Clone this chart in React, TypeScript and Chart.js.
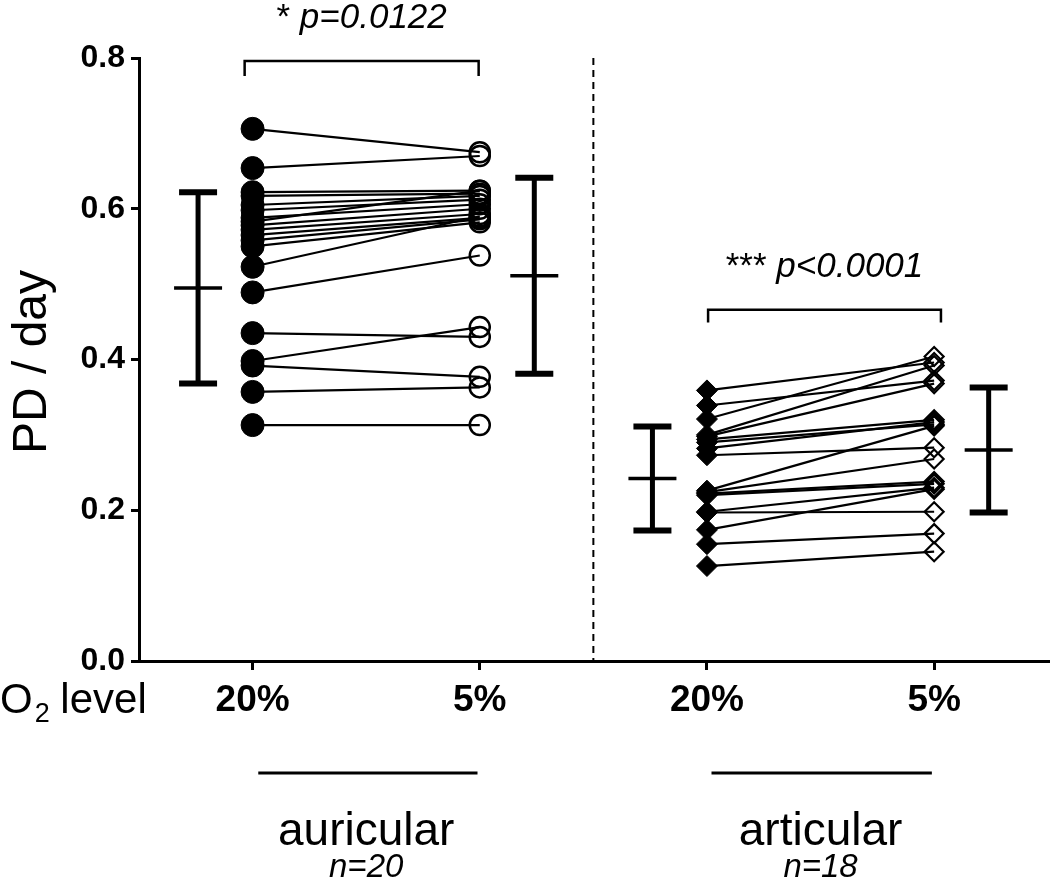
import React, { useEffect, useRef } from 'react';
import { Chart, registerables } from 'chart.js';

Chart.register(...registerables);

// ---------- data ----------
const xCategories = ['20%', '5%', '20%', '5%'];
const xPositions = [1, 2, 3, 4];
const yTicks = [0, 0.2, 0.4, 0.6, 0.8];

const auricular20 = [0.706, 0.654, 0.622, 0.617, 0.605, 0.598, 0.588, 0.583, 0.578, 0.572, 0.565, 0.558, 0.55, 0.523, 0.489, 0.435, 0.398, 0.392, 0.357, 0.313];
const auricular5 = [0.675, 0.67, 0.624, 0.62, 0.617, 0.612, 0.606, 0.624, 0.6, 0.593, 0.588, 0.586, 0.582, 0.59, 0.538, 0.43, 0.443, 0.377, 0.363, 0.313];

const articular20 = [0.359, 0.339, 0.321, 0.3, 0.298, 0.294, 0.29, 0.282, 0.273, 0.226, 0.224, 0.222, 0.22, 0.198, 0.197, 0.174, 0.155, 0.126];
const articular5 = [0.396, 0.372, 0.404, 0.392, 0.368, 0.32, 0.314, 0.317, 0.283, 0.312, 0.268, 0.238, 0.235, 0.23, 0.198, 0.228, 0.169, 0.145];

const summaryX = [0.76, 2.24, 2.76, 4.24];
const summaryMean = [0.495, 0.511, 0.242, 0.28];
const summarySD = [0.127, 0.13, 0.069, 0.083];

const separatorX = 2.5;
const bracketX = [[0.965, 1.995], [3.005, 4.03]];
const bracketY = [[0.796, 0.776], [0.466, 0.449]];
const bracketStars = ['*', '***'];
const bracketP = ['p=0.0122', 'p<0.0001'];

const groupCenters = [1.5, 3.5];
const groupLineX = [[1.025, 1.99], [3.02, 3.99]];
const groupNames = ['auricular', 'articular'];
const groupN = ['n=20', 'n=18'];

const yTitle = 'PD / day';
const xRowTitle = ['O', '2', ' level'];

// ---------- chart ----------
const FONT = "'Liberation Sans', Arial, Helvetica, sans-serif";

const annotationPlugin = {
  id: 'annotations',
  afterDatasetsDraw(chart: any) {
    const { ctx, scales } = chart;
    const x = scales.x;
    const y = scales.y;
    ctx.save();
    ctx.strokeStyle = '#000';
    ctx.fillStyle = '#000';
    ctx.lineCap = 'butt';

    // dashed separator
    const sx = x.getPixelForValue(separatorX);
    ctx.lineWidth = 2;
    ctx.setLineDash([7, 5]);
    ctx.beginPath();
    ctx.moveTo(sx, y.getPixelForValue(0.8));
    ctx.lineTo(sx, y.getPixelForValue(0));
    ctx.stroke();
    ctx.setLineDash([]);

    // mean ± SD
    summaryX.forEach((xv, i) => {
      const px = x.getPixelForValue(xv);
      const pm = y.getPixelForValue(summaryMean[i]);
      const pt = y.getPixelForValue(summaryMean[i] + summarySD[i]);
      const pb = y.getPixelForValue(summaryMean[i] - summarySD[i]);
      ctx.lineWidth = 5;
      ctx.beginPath();
      ctx.moveTo(px, pt);
      ctx.lineTo(px, pb);
      ctx.stroke();
      ctx.lineWidth = 6;
      ctx.beginPath();
      ctx.moveTo(px - 19, pt);
      ctx.lineTo(px + 19, pt);
      ctx.moveTo(px - 19, pb);
      ctx.lineTo(px + 19, pb);
      ctx.stroke();
      ctx.lineWidth = 3.5;
      ctx.beginPath();
      ctx.moveTo(px - 24, pm);
      ctx.lineTo(px + 24, pm);
      ctx.stroke();
    });

    // significance brackets
    bracketX.forEach((bx, i) => {
      const x0 = x.getPixelForValue(bx[0]);
      const x1 = x.getPixelForValue(bx[1]);
      const yt = y.getPixelForValue(bracketY[i][0]);
      const yb = y.getPixelForValue(bracketY[i][1]);
      ctx.lineWidth = 2.5;
      ctx.beginPath();
      ctx.moveTo(x0, yb);
      ctx.lineTo(x0, yt);
      ctx.lineTo(x1, yt);
      ctx.lineTo(x1, yb);
      ctx.stroke();
      const starFont = `normal 35px ${FONT}`;
      const pFont = `italic 35px ${FONT}`;
      ctx.font = starFont;
      const starTxt = bracketStars[i] + ' ';
      const w1 = ctx.measureText(starTxt).width;
      ctx.font = pFont;
      const w2 = ctx.measureText(bracketP[i]).width;
      const cx = (x0 + x1) / 2;
      const left = cx - (w1 + w2) / 2;
      const base = yt - 33;
      ctx.textBaseline = 'alphabetic';
      ctx.textAlign = 'left';
      ctx.font = starFont;
      ctx.fillText(starTxt, left, base);
      ctx.font = pFont;
      ctx.fillText(bracketP[i], left + w1, base);
    });

    // group underlines and names
    groupLineX.forEach((gx, i) => {
      const x0 = x.getPixelForValue(gx[0]);
      const x1 = x.getPixelForValue(gx[1]);
      ctx.lineWidth = 3;
      ctx.beginPath();
      ctx.moveTo(x0, 773);
      ctx.lineTo(x1, 773);
      ctx.stroke();
      const cx = x.getPixelForValue(groupCenters[i]);
      ctx.textAlign = 'center';
      ctx.textBaseline = 'alphabetic';
      ctx.font = `normal 46px ${FONT}`;
      ctx.fillText(groupNames[i], cx, 845);
      ctx.font = `italic 33px ${FONT}`;
      ctx.fillText(groupN[i], cx, 877);
    });

    // O2 level row title
    ctx.textAlign = 'left';
    ctx.textBaseline = 'alphabetic';
    ctx.font = `normal 42px ${FONT}`;
    ctx.fillText(xRowTitle[0], 0, 713);
    const wO = ctx.measureText(xRowTitle[0]).width;
    ctx.font = `normal 27px ${FONT}`;
    ctx.fillText(xRowTitle[1], wO + 2, 722);
    const w2 = ctx.measureText(xRowTitle[1]).width;
    ctx.font = `normal 42px ${FONT}`;
    ctx.fillText(xRowTitle[2], wO + w2 + 1, 713);

    // y title
    ctx.save();
    ctx.translate(33, 362);
    ctx.rotate(-Math.PI / 2);
    ctx.textAlign = 'center';
    ctx.textBaseline = 'middle';
    ctx.font = `normal 48px ${FONT}`;
    ctx.fillText(yTitle, 0, 0);
    ctx.restore();

    ctx.restore();
  },
};

function buildDatasets() {
  const sets: any[] = [];
  auricular20.forEach((v, i) => {
    sets.push({
      data: [
        { x: xPositions[0], y: v },
        { x: xPositions[1], y: auricular5[i] },
      ],
      showLine: true,
      borderColor: '#000',
      borderWidth: 2.2,
      pointStyle: ['circle', 'circle'],
      pointRadius: [11.5, 10],
      pointBackgroundColor: ['#000', 'rgba(0,0,0,0)'],
      pointBorderColor: '#000',
      pointBorderWidth: [1, 2.5],
    });
  });
  articular20.forEach((v, i) => {
    sets.push({
      data: [
        { x: xPositions[2], y: v },
        { x: xPositions[3], y: articular5[i] },
      ],
      showLine: true,
      borderColor: '#000',
      borderWidth: 2.2,
      pointStyle: ['rectRot', 'rectRot'],
      pointRadius: [10.5, 9.5],
      pointBackgroundColor: ['#000', 'rgba(0,0,0,0)'],
      pointBorderColor: '#000',
      pointBorderWidth: [1, 2.2],
    });
  });
  return sets;
}

export default function App() {
  const canvasRef = useRef<HTMLCanvasElement | null>(null);

  useEffect(() => {
    if (!canvasRef.current) return;
    const chart = new Chart(canvasRef.current, {
      type: 'scatter',
      data: { datasets: buildDatasets() },
      options: {
        animation: false,
        responsive: false,
        events: [],
        layout: { autoPadding: false, padding: { top: 58, right: 0, left: 0, bottom: 0 } },
        plugins: {
          legend: { display: false },
          tooltip: { enabled: false },
        },
        scales: {
          x: {
            type: 'linear',
            min: 0.5,
            max: 4.51,
            afterBuildTicks: (scale: any) => {
              scale.ticks = xPositions.map((v) => ({ value: v }));
            },
            afterFit: (scale: any) => {
              scale.height = 220;
              scale.paddingLeft = 0;
              scale.paddingRight = 0;
            },
            ticks: {
              autoSkip: false,
              maxRotation: 0,
              color: '#000',
              padding: 9,
              font: { family: FONT, size: 37, weight: 'bold' },
              callback: (value: any) => {
                const idx = xPositions.indexOf(Number(value));
                return idx >= 0 ? xCategories[idx] : '';
              },
            },
            grid: {
              drawOnChartArea: false,
              drawTicks: true,
              tickLength: 9,
              lineWidth: 3,
              color: '#000',
            },
            border: { display: true, width: 3, color: '#000' },
          },
          y: {
            type: 'linear',
            min: 0,
            max: 0.8,
            afterBuildTicks: (scale: any) => {
              scale.ticks = yTicks.map((v) => ({ value: v }));
            },
            afterFit: (scale: any) => {
              scale.width = 139;
              scale.paddingLeft = 0;
              scale.paddingRight = 0;
            },
            ticks: {
              color: '#000',
              padding: 6,
              font: { family: FONT, size: 32, weight: 'bold' },
              callback: (value: any) => Number(value).toFixed(1),
            },
            grid: {
              drawOnChartArea: false,
              drawTicks: true,
              tickLength: 8,
              lineWidth: 3,
              color: '#000',
            },
            border: { display: true, width: 3, color: '#000' },
          },
        },
      },
      plugins: [annotationPlugin],
    } as any);
    return () => chart.destroy();
  }, []);

  return (
    <div style={{ position: 'absolute', left: 0, top: 0, width: 1050, height: 881, background: '#fff' }}>
      <canvas ref={canvasRef} width={1050} height={881} style={{ display: 'block' }} />
    </div>
  );
}
